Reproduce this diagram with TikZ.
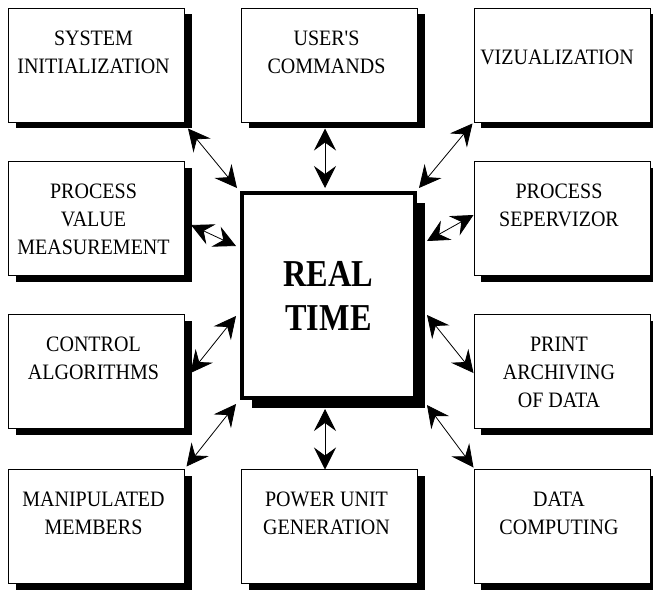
\documentclass[tikz,border=0pt]{standalone}
\usepackage{fontspec}
\newfontfamily\boxfont[FakeStretch=0.91]{Liberation Serif}
\newfontfamily\corefont[FakeStretch=0.85]{Liberation Serif}
\usetikzlibrary{arrows.meta,positioning,shadows}

\begin{document}
\begin{tikzpicture}[x=1pt,y=-1pt,<->,>={Stealth[length=22pt,width=22pt,inset=8pt]},line width=0.8pt,
  task node/.style={rectangle,draw,line width=1pt,fill=white,minimum width=176pt,minimum height=114pt,
    drop shadow={shadow xshift=7pt,shadow yshift=-6pt,fill=black,opacity=1}},
  task text/.style={align=center,inner sep=0pt,xshift=-3pt,font=\boxfont\fontsize{22}{28}\selectfont},
  core node/.style={rectangle,draw,line width=4pt,fill=white,minimum width=173pt,minimum height=205pt,
    align=center,font=\corefont\bfseries\fontsize{38}{44}\selectfont,
    drop shadow={shadow xshift=10pt,shadow yshift=-10pt,fill=black,opacity=1}}]

  \useasboundingbox (0,0) rectangle (653,592);

  % the tasks round the kernel
  \node[task node] (sys) at (96.5,65)    {};
  \node[task node] (usr) at (329.5,65)   {};
  \node[task node] (viz) at (562,65)     {};
  \node[task node] (pvm) at (96.5,218.5) {};
  \node[task node] (psv) at (562,218.5)  {};
  \node[task node] (ctl) at (96.5,371.5) {};
  \node[task node] (prt) at (562,371.5)  {};
  \node[task node] (man) at (96.5,526.5) {};
  \node[task node] (pwr) at (329.5,526.5) {};
  \node[task node] (dat) at (562,526.5)  {};

  \node[task text,below=23pt of sys.north] (sys-t) {SYSTEM\\INITIALIZATION};
  \node[task text,below=23pt of usr.north] (usr-t) {USER'S\\COMMANDS};
  \node[task text,below=42pt of viz.north,xshift=-2pt] (viz-t) {VIZUALIZATION};
  \node[task text,below=23pt of pvm.north] (pvm-t) {PROCESS\\VALUE\\MEASUREMENT};
  \node[task text,below=23pt of psv.north] (psv-t) {PROCESS\\SEPERVIZOR};
  \node[task text,below=23pt of ctl.north] (ctl-t) {CONTROL\\ALGORITHMS};
  \node[task text,below=23pt of prt.north] (prt-t) {PRINT\\ARCHIVING\\OF DATA};
  \node[task text,below=23pt of man.north] (man-t) {MANIPULATED\\MEMBERS};
  \node[task text,below=23pt of pwr.north] (pwr-t) {POWER UNIT\\GENERATION};
  \node[task text,below=23pt of dat.north] (dat-t) {DATA\\COMPUTING};

  \node[core node] (rt) at (328.5,295.5) {REAL\\TIME};

  \path
    ([shift={(3,6)}]sys.south east)     edge ([shift={(-3,-3)}]rt.north west)
    ([shift={(-4.5,6)}]usr.south)       edge ([shift={(-3.5,-3)}]rt.north)
    ([shift={(-1,1)}]viz.south west)    edge ([shift={(2,-3)}]rt.north east)
    ([shift={(6,6.5)}]pvm.east)         edge ([shift={(-4,55)}]rt.north west)
    ([shift={(0,-3.5)}]psv.west)        edge ([shift={(10,50)}]rt.north east)
    ([shift={(5.5,1.5)}]ctl.east)       edge ([shift={(-4,125)}]rt.north west)
    ([shift={(0,1.5)}]prt.west)         edge ([shift={(10,124)}]rt.north east)
    ([shift={(1.5,-2.5)}]man.north east) edge ([shift={(-4,4)}]rt.south west)
    ([shift={(-4.5,0.5)}]pwr.north)     edge ([shift={(-3.5,9)}]rt.south)
    ([shift={(0,-1.5)}]dat.north west)  edge ([shift={(10,5)}]rt.south east);

\end{tikzpicture}
\end{document}
